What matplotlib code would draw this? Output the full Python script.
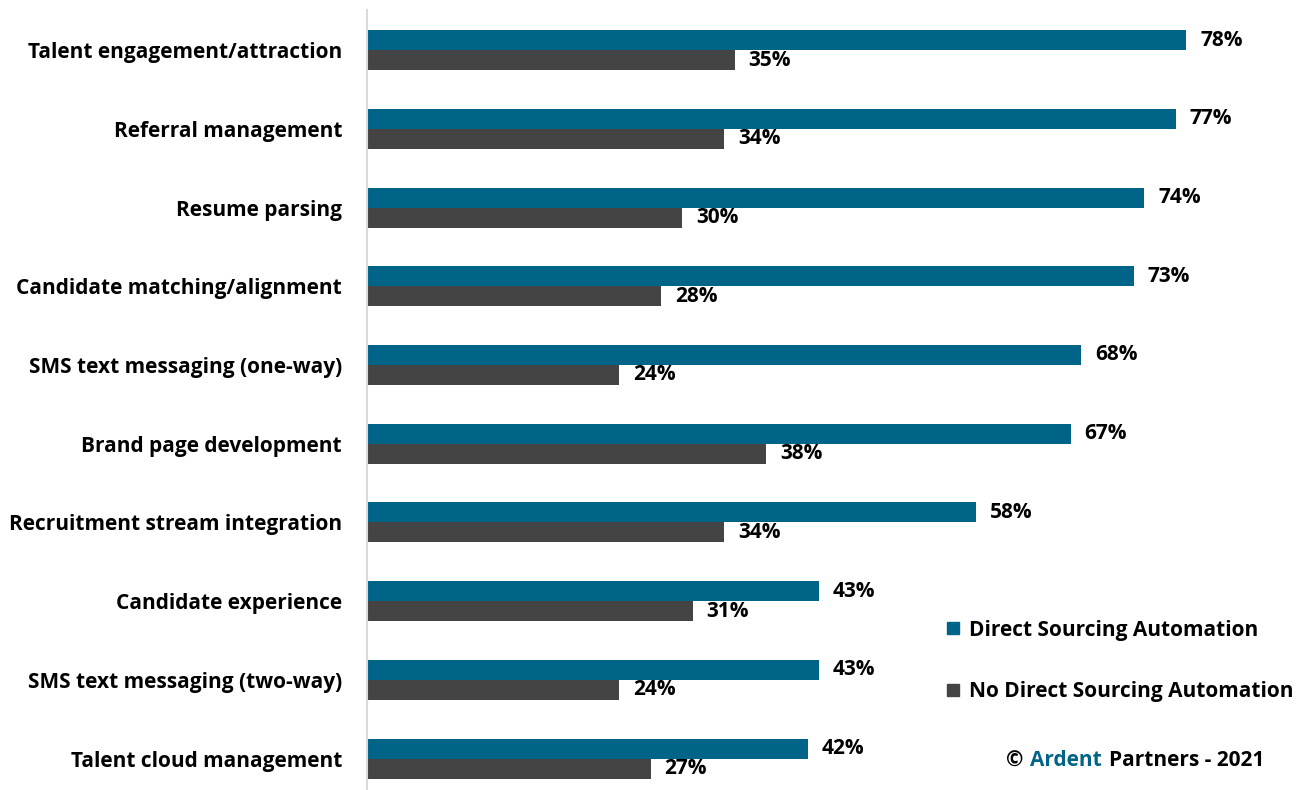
import matplotlib
matplotlib.use("Agg")
import matplotlib.pyplot as plt
from matplotlib.lines import Line2D
from matplotlib.offsetbox import TextArea, HPacker, AnchoredOffsetbox
import numpy as np

categories = ["Talent engagement/attraction", "Referral management", "Resume parsing",
              "Candidate matching/alignment", "SMS text messaging (one-way)",
              "Brand page development", "Recruitment stream integration",
              "Candidate experience", "SMS text messaging (two-way)",
              "Talent cloud management"]
direct = [78, 77, 74, 73, 68, 67, 58, 43, 43, 42]
no_direct = [35, 34, 30, 28, 24, 38, 34, 31, 24, 27]
series_names = ["Direct Sourcing Automation", "No Direct Sourcing Automation"]

TEAL = "#006489"
GRAY = "#444444"
FONT = "Open Sans"
FS = 15

plt.rcParams["font.family"] = [FONT, "DejaVu Sans"]
plt.rcParams["font.weight"] = "bold"

fig = plt.figure(figsize=(13.07, 7.9), dpi=100)
ax = fig.add_axes([367 / 1307, 0, 1 - 367 / 1307, 780 / 790])

y = np.arange(len(categories))
h = 0.254
ax.barh(y - h / 2, direct, height=h, color=TEAL)
ax.barh(y + h / 2, no_direct, height=h, color=GRAY)

for yi, v in zip(y, direct):
    ax.annotate(f"{v}%", (v, yi - h / 2), xytext=(10, 0), textcoords="offset points",
                va="center", ha="left", fontsize=FS, fontweight="bold")
for yi, v in zip(y, no_direct):
    ax.annotate(f"{v}%", (v, yi + h / 2), xytext=(10, 0), textcoords="offset points",
                va="center", ha="left", fontsize=FS, fontweight="bold")

ax.set_xlim(0, 89.5)
ax.set_ylim(9.40, -0.51)
ax.set_yticks(y)
ax.set_yticklabels(categories, fontsize=FS, fontweight="bold")
ax.set_xticks([])
ax.tick_params(axis="y", length=0, pad=18)
for s in ["top", "right", "bottom"]:
    ax.spines[s].set_visible(False)
ax.spines["left"].set_color("#d9d9d9")
ax.spines["left"].set_linewidth(1.5)

handles = [Line2D([], [], marker="s", color="none", markerfacecolor=c, markeredgecolor=c,
                  markersize=9) for c in (TEAL, GRAY)]
fig.legend(handles, series_names, loc="upper left", bbox_to_anchor=(926 / 1307, 1 - 601 / 790),
           frameon=False, handlelength=0.8, handletextpad=0.35, labelspacing=1.95,
           prop={"family": FONT, "size": FS, "weight": "bold"})

parts = [TextArea("©", textprops=dict(color="black", size=FS, fontweight="bold")),
         TextArea("Ardent", textprops=dict(color=TEAL, size=FS, fontweight="bold")),
         TextArea("Partners - 2021", textprops=dict(color="black", size=FS, fontweight="bold"))]
box = HPacker(children=parts, align="baseline", pad=0, sep=5)
anch = AnchoredOffsetbox(loc="center left", child=box, pad=0, frameon=False,
                         bbox_to_anchor=(1006 / 1307, 1 - 761 / 790),
                         bbox_transform=fig.transFigure, borderpad=0)
fig.add_artist(anch)

fig.savefig("out.png", dpi=100)
